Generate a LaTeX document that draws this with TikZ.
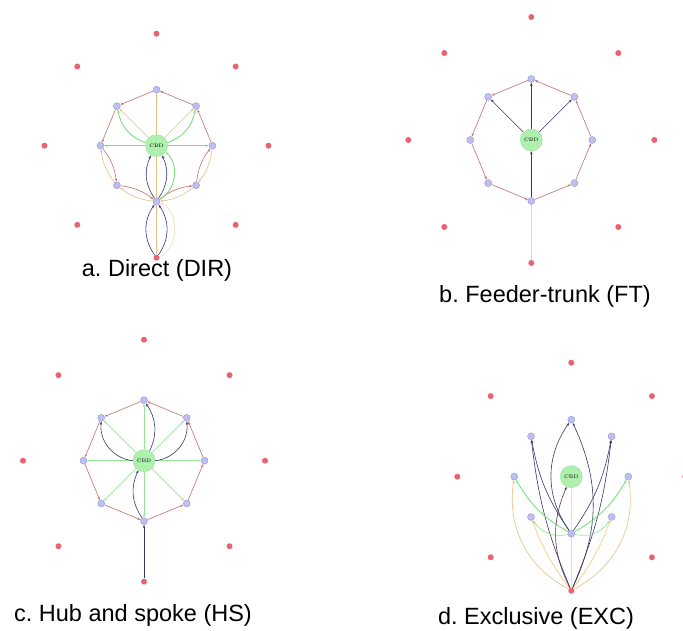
\documentclass[tikz,border=0pt]{standalone}
\usepackage{fontspec}
\newfontfamily\labfont{Liberation Sans}
\usetikzlibrary{arrows.meta,calc}
\pgfdeclarelayer{bg}
\pgfsetlayers{bg,main}
\definecolor{ringc}{RGB}{196,110,110}
\definecolor{tanc}{RGB}{232,190,130}
\definecolor{grn}{RGB}{120,225,120}
\definecolor{lgrn}{RGB}{150,230,150}
\definecolor{navyc}{RGB}{50,55,105}
\definecolor{palec}{RGB}{240,228,160}
\definecolor{bfill}{RGB}{190,190,240}
\definecolor{bdraw}{RGB}{150,150,215}
\definecolor{rfill}{RGB}{232,100,115}
\definecolor{gfill}{RGB}{175,240,175}
\definecolor{gdraw}{RGB}{150,225,150}
\definecolor{pinkc}{RGB}{240,205,205}
\tikzset{
 cbd/.style={circle,fill=gfill,draw=gdraw,line width=0.4pt,inner sep=0pt,minimum size=22pt,font=\fontsize{5}{5}\selectfont},
 innode/.style={circle,fill=bfill,draw=bdraw,line width=0.4pt,inner sep=0pt,minimum size=7pt},
 outnode/.style={circle,fill=rfill,draw=none,inner sep=0pt,minimum size=6pt},
 tipe/.style={-{Stealth[length=3.2pt,width=2.4pt]}},
 ring/.style={tipe,draw=ringc,line width=0.6pt},
 tane/.style={tipe,draw=tanc,line width=0.6pt},
 grne/.style={tipe,draw=grn,line width=1.2pt},
 lgrne/.style={tipe,draw=lgrn,line width=0.7pt},
 navye/.style={tipe,draw=navyc,line width=0.6pt},
 palee/.style={draw=palec,line width=0.7pt},
 captxt/.style={font=\labfont\fontsize{23.5}{28}\selectfont\frenchspacing,inner sep=0pt}
}
\newcommand\mkpanel[5]{%
  \node[cbd] (#1c) at (#2,#3) {CBD};
  \foreach \k in {0,...,7}{
    \node[innode] (#1\k) at ($(#2,#3)+(\k*45:#4)$) {};
    \node[outnode] (#1o\k) at ($(#2,#3)+(\k*45:#5)$) {};
  }}
\begin{document}
\begin{tikzpicture}[x=1pt,y=1pt]
\useasboundingbox (0,0) rectangle (683,631);
\mkpanel{a}{156.5}{485.3}{56}{112}
\mkpanel{b}{531.3}{491}{61}{123}
\mkpanel{c}{144}{170.3}{60.5}{121}
\mkpanel{d}{571.3}{154.3}{57}{114}
\node[captxt] (la) at (157,361) {a. Direct (DIR)};
\node[captxt] (lb) at (545,335) {b. Feeder-trunk (FT)};
\node[captxt] (lc) at (133,16) {c. Hub and spoke (HS)};
\node[captxt] (ld) at (536,13) {d. Exclusive (EXC)};
\begin{pgfonlayer}{bg}
% panel a
\foreach \i/\j in {0/1,1/2,2/3,3/4} \draw[ring] (a\i) -- (a\j);
\foreach \i/\j in {4/5,5/6,6/7,7/0} {
  \draw[ring] (a\i) to[bend left=15] (a\j);
  \draw[tane] (a\j) to[bend left=15] (a\i);
}
\draw[tane] (ac) -- (a1);
\draw[tane] (ac) -- (a3);
\draw[tane] (a6) -- (a2);
\draw[grne] (ac) -- (a0);
\draw[grne] (ac) -- (a4);
\draw[grne,line width=0.9pt] (ac) to[bend right=30] (a1);
\draw[grne,line width=0.9pt] (ac) to[bend left=30] (a3);
\draw[navye] (a6) to[bend left=30] (ac);
\draw[navye] (a6) to[bend right=30] (ac);
\draw[grne,line width=0.9pt] (a6) to[bend right=55] (ac);
\draw[navye] (ao6) to[bend left=35] (a6);
\draw[navye] (ao6) to[bend right=35] (a6);
\draw[tane] (ao6) -- (a6);
\draw[tane,draw=tanc!60] (ao6) to[bend right=70] (a6);
% panel b
\foreach \i in {0,...,7} {
  \pgfmathtruncatemacro\j{mod(\i+1,8)}
  \draw[ring] (b\i) -- (b\j);
}
\draw[navye] (bc) -- (b1);
\draw[navye] (bc) -- (b2);
\draw[navye] (bc) -- (b3);
\draw[navye] (b6) -- (bc);
\draw[draw=pinkc,line width=0.6pt] (bo6) -- (b6);
% panel c
\foreach \i in {0,...,7} {
  \pgfmathtruncatemacro\j{mod(\i+1,8)}
  \draw[ring] (c\i) -- (c\j);
  \draw[lgrne] (cc) -- (c\i);
}
\draw[navye] (cc) to[bend right=30] (c2);
\draw[navye] (cc) to[bend left=45] (c3);
\draw[navye] (cc) to[bend right=45] (c1);
\draw[navye] (c6) to[bend left=30] (cc);
\draw[navye] (co6) -- (c6);
% panel d
\draw[palee] (dc) -- (do6);
\draw[tane] (do6) to[bend left=35] (d4);
\draw[tane] (do6) to[bend right=35] (d0);
\draw[tane,draw=palec!70!orange] (do6) to[bend left=8] (d5);
\draw[tane,draw=palec!70!orange] (do6) to[bend right=8] (d7);
\draw[navye] (do6) to[bend left=8] (d3);
\draw[navye] (d6) to[bend left=12] (d3);
\draw[navye] (do6) to[bend right=8] (d1);
\draw[navye] (d6) to[bend right=12] (d1);
\draw[navye] (do6) to[bend right=25] (d2);
\draw[navye] (d6) to[bend left=35] (d2);
\draw[grne,line width=0.9pt] (d6) to[bend left=15] (d4);
\draw[grne,line width=0.9pt] (d6) to[bend right=15] (d0);
\draw[lgrne] (d6) to[bend left=35] (d5);
\draw[lgrne] (d6) to[bend right=35] (d7);
\draw[navye,draw=navyc!70!purple] (do6) to[bend left=25] (dc);
\end{pgfonlayer}
\end{tikzpicture}
\end{document}
